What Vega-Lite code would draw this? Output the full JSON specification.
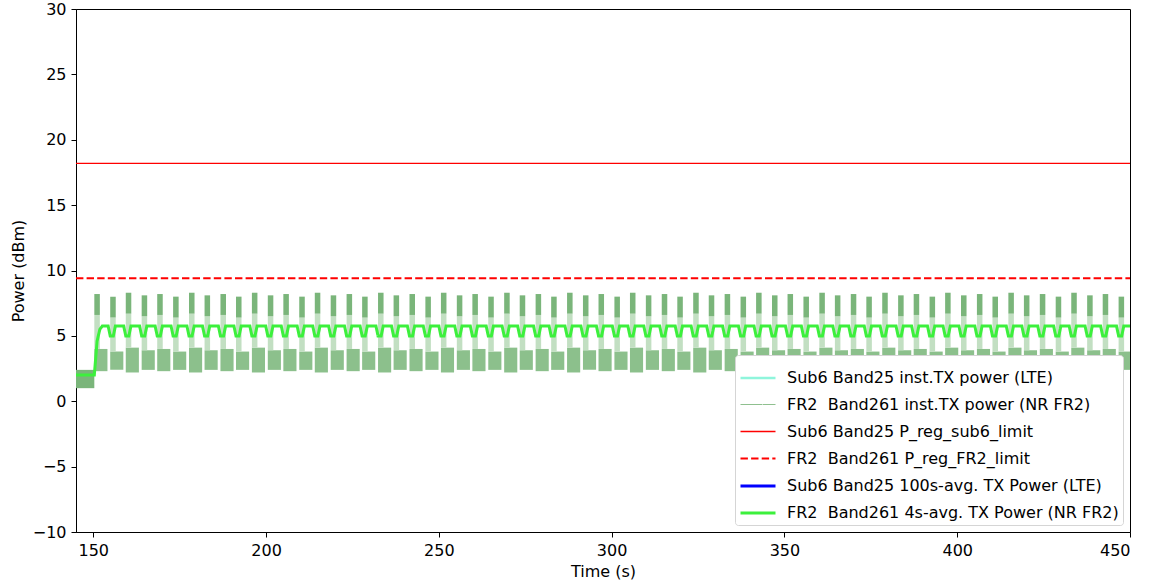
{
"$schema": "https://vega.github.io/schema/vega-lite/v6.json",
"width": 1054, "height": 523,
"autosize": {"type": "none"},
"padding": {"left": 76, "top": 9, "right": 19, "bottom": 52},
"background": "white",
"config": {
 "font": "DejaVu Sans",
 "view": {"stroke": "black", "strokeWidth": 1},
 "axis": {"grid": false, "domainColor": "black", "tickColor": "black", "labelColor": "black", "titleColor": "black", "labelFontSize": 16, "titleFontSize": 16, "titleFontWeight": "normal", "tickSize": 5, "labelPadding": 5, "domainWidth": 1, "tickWidth": 1},
 "legend": {"orient": "bottom-right", "offset": 7, "fillColor": "white", "strokeColor": "#d5d5d5", "cornerRadius": 3, "padding": 4, "labelFontSize": 16, "labelColor": "black", "labelLimit": 0, "labelOffset": 10, "symbolType": "stroke", "symbolSize": 1225, "rowPadding": -5.8, "title": null}
},
"datasets": {
 "pre": [{"a": 145.0, "c": 150.3, "lo": 1.0, "lh": 2.4}],
 "cycles": [
  {"a":150.3,"b":151.9,"c":154.1,"lo":2.3,"lh":4.0,"m":6.6,"hi":8.2},
  {"a":154.9,"b":156.5,"c":158.7,"lo":2.4,"lh":3.8,"m":6.4,"hi":8.0},
  {"a":159.4,"b":161.0,"c":163.2,"lo":2.2,"lh":4.1,"m":6.7,"hi":8.3},
  {"a":164.0,"b":165.6,"c":167.8,"lo":2.4,"lh":3.9,"m":6.5,"hi":8.1},
  {"a":168.5,"b":170.1,"c":172.3,"lo":2.3,"lh":4.0,"m":6.6,"hi":8.2},
  {"a":173.1,"b":174.7,"c":176.9,"lo":2.4,"lh":3.8,"m":6.4,"hi":8.0},
  {"a":177.7,"b":179.3,"c":181.5,"lo":2.2,"lh":4.1,"m":6.7,"hi":8.3},
  {"a":182.2,"b":183.8,"c":186.0,"lo":2.4,"lh":3.9,"m":6.5,"hi":8.1},
  {"a":186.8,"b":188.4,"c":190.6,"lo":2.3,"lh":4.0,"m":6.6,"hi":8.2},
  {"a":191.3,"b":192.9,"c":195.1,"lo":2.4,"lh":3.8,"m":6.4,"hi":8.0},
  {"a":195.9,"b":197.5,"c":199.7,"lo":2.2,"lh":4.1,"m":6.7,"hi":8.3},
  {"a":200.5,"b":202.1,"c":204.3,"lo":2.4,"lh":3.9,"m":6.5,"hi":8.1},
  {"a":205.0,"b":206.6,"c":208.8,"lo":2.3,"lh":4.0,"m":6.6,"hi":8.2},
  {"a":209.6,"b":211.2,"c":213.4,"lo":2.4,"lh":3.8,"m":6.4,"hi":8.0},
  {"a":214.1,"b":215.7,"c":217.9,"lo":2.2,"lh":4.1,"m":6.7,"hi":8.3},
  {"a":218.7,"b":220.3,"c":222.5,"lo":2.4,"lh":3.9,"m":6.5,"hi":8.1},
  {"a":223.3,"b":224.9,"c":227.1,"lo":2.3,"lh":4.0,"m":6.6,"hi":8.2},
  {"a":227.8,"b":229.4,"c":231.6,"lo":2.4,"lh":3.8,"m":6.4,"hi":8.0},
  {"a":232.4,"b":234.0,"c":236.2,"lo":2.2,"lh":4.1,"m":6.7,"hi":8.3},
  {"a":236.9,"b":238.5,"c":240.7,"lo":2.4,"lh":3.9,"m":6.5,"hi":8.1},
  {"a":241.5,"b":243.1,"c":245.3,"lo":2.3,"lh":4.0,"m":6.6,"hi":8.2},
  {"a":246.1,"b":247.7,"c":249.9,"lo":2.4,"lh":3.8,"m":6.4,"hi":8.0},
  {"a":250.6,"b":252.2,"c":254.4,"lo":2.2,"lh":4.1,"m":6.7,"hi":8.3},
  {"a":255.2,"b":256.8,"c":259.0,"lo":2.4,"lh":3.9,"m":6.5,"hi":8.1},
  {"a":259.7,"b":261.3,"c":263.5,"lo":2.3,"lh":4.0,"m":6.6,"hi":8.2},
  {"a":264.3,"b":265.9,"c":268.1,"lo":2.4,"lh":3.8,"m":6.4,"hi":8.0},
  {"a":268.9,"b":270.5,"c":272.7,"lo":2.2,"lh":4.1,"m":6.7,"hi":8.3},
  {"a":273.4,"b":275.0,"c":277.2,"lo":2.4,"lh":3.9,"m":6.5,"hi":8.1},
  {"a":278.0,"b":279.6,"c":281.8,"lo":2.3,"lh":4.0,"m":6.6,"hi":8.2},
  {"a":282.5,"b":284.1,"c":286.3,"lo":2.4,"lh":3.8,"m":6.4,"hi":8.0},
  {"a":287.1,"b":288.7,"c":290.9,"lo":2.2,"lh":4.1,"m":6.7,"hi":8.3},
  {"a":291.7,"b":293.3,"c":295.5,"lo":2.4,"lh":3.9,"m":6.5,"hi":8.1},
  {"a":296.2,"b":297.8,"c":300.0,"lo":2.3,"lh":4.0,"m":6.6,"hi":8.2},
  {"a":300.8,"b":302.4,"c":304.6,"lo":2.4,"lh":3.8,"m":6.4,"hi":8.0},
  {"a":305.3,"b":306.9,"c":309.1,"lo":2.2,"lh":4.1,"m":6.7,"hi":8.3},
  {"a":309.9,"b":311.5,"c":313.7,"lo":2.4,"lh":3.9,"m":6.5,"hi":8.1},
  {"a":314.5,"b":316.1,"c":318.3,"lo":2.3,"lh":4.0,"m":6.6,"hi":8.2},
  {"a":319.0,"b":320.6,"c":322.8,"lo":2.4,"lh":3.8,"m":6.4,"hi":8.0},
  {"a":323.6,"b":325.2,"c":327.4,"lo":2.2,"lh":4.1,"m":6.7,"hi":8.3},
  {"a":328.1,"b":329.7,"c":331.9,"lo":2.4,"lh":3.9,"m":6.5,"hi":8.1},
  {"a":332.7,"b":334.3,"c":336.5,"lo":2.3,"lh":4.0,"m":6.6,"hi":8.2},
  {"a":337.3,"b":338.9,"c":341.1,"lo":2.4,"lh":3.8,"m":6.4,"hi":8.0},
  {"a":341.8,"b":343.4,"c":345.6,"lo":2.2,"lh":4.1,"m":6.7,"hi":8.3},
  {"a":346.4,"b":348.0,"c":350.2,"lo":2.4,"lh":3.9,"m":6.5,"hi":8.1},
  {"a":350.9,"b":352.5,"c":354.7,"lo":2.3,"lh":4.0,"m":6.6,"hi":8.2},
  {"a":355.5,"b":357.1,"c":359.3,"lo":2.4,"lh":3.8,"m":6.4,"hi":8.0},
  {"a":360.1,"b":361.7,"c":363.9,"lo":2.2,"lh":4.1,"m":6.7,"hi":8.3},
  {"a":364.6,"b":366.2,"c":368.4,"lo":2.4,"lh":3.9,"m":6.5,"hi":8.1},
  {"a":369.2,"b":370.8,"c":373.0,"lo":2.3,"lh":4.0,"m":6.6,"hi":8.2},
  {"a":373.7,"b":375.3,"c":377.5,"lo":2.4,"lh":3.8,"m":6.4,"hi":8.0},
  {"a":378.3,"b":379.9,"c":382.1,"lo":2.2,"lh":4.1,"m":6.7,"hi":8.3},
  {"a":382.9,"b":384.5,"c":386.7,"lo":2.4,"lh":3.9,"m":6.5,"hi":8.1},
  {"a":387.4,"b":389.0,"c":391.2,"lo":2.3,"lh":4.0,"m":6.6,"hi":8.2},
  {"a":392.0,"b":393.6,"c":395.8,"lo":2.4,"lh":3.8,"m":6.4,"hi":8.0},
  {"a":396.5,"b":398.1,"c":400.3,"lo":2.2,"lh":4.1,"m":6.7,"hi":8.3},
  {"a":401.1,"b":402.7,"c":404.9,"lo":2.4,"lh":3.9,"m":6.5,"hi":8.1},
  {"a":405.7,"b":407.3,"c":409.5,"lo":2.3,"lh":4.0,"m":6.6,"hi":8.2},
  {"a":410.2,"b":411.8,"c":414.0,"lo":2.4,"lh":3.8,"m":6.4,"hi":8.0},
  {"a":414.8,"b":416.4,"c":418.6,"lo":2.2,"lh":4.1,"m":6.7,"hi":8.3},
  {"a":419.3,"b":420.9,"c":423.1,"lo":2.4,"lh":3.9,"m":6.5,"hi":8.1},
  {"a":423.9,"b":425.5,"c":427.7,"lo":2.3,"lh":4.0,"m":6.6,"hi":8.2},
  {"a":428.5,"b":430.1,"c":432.3,"lo":2.4,"lh":3.8,"m":6.4,"hi":8.0},
  {"a":433.0,"b":434.6,"c":436.8,"lo":2.2,"lh":4.1,"m":6.7,"hi":8.3},
  {"a":437.6,"b":439.2,"c":441.4,"lo":2.4,"lh":3.9,"m":6.5,"hi":8.1},
  {"a":442.1,"b":443.7,"c":445.9,"lo":2.3,"lh":4.0,"m":6.6,"hi":8.2},
  {"a":446.7,"b":448.3,"c":450.0,"lo":2.4,"lh":3.8,"m":6.4,"hi":8.0}
 ],
 "sub6lim": [{"t":145,"v":18.2},{"t":450,"v":18.2}],
 "fr2lim": [{"t":145,"v":9.4},{"t":450,"v":9.4}],
 "avg": [
  {"t":145.0,"v":2.0},{"t":150.3,"v":2.0},{"t":151.1,"v":4.6},{"t":151.9,"v":5.5},{"t":152.6,"v":5.75},
  {"t":154.3,"v":5.75},{"t":154.9,"v":5.0},{"t":155.8,"v":5.0},{"t":156.4,"v":5.75},
  {"t":158.8,"v":5.75},{"t":159.4,"v":5.0},{"t":160.3,"v":5.0},{"t":160.9,"v":5.75},
  {"t":163.4,"v":5.75},{"t":164.0,"v":5.0},{"t":164.9,"v":5.0},{"t":165.5,"v":5.75},
  {"t":167.9,"v":5.75},{"t":168.5,"v":5.0},{"t":169.4,"v":5.0},{"t":170.0,"v":5.75},
  {"t":172.5,"v":5.75},{"t":173.1,"v":5.0},{"t":174.0,"v":5.0},{"t":174.6,"v":5.75},
  {"t":177.1,"v":5.75},{"t":177.7,"v":5.0},{"t":178.6,"v":5.0},{"t":179.2,"v":5.75},
  {"t":181.6,"v":5.75},{"t":182.2,"v":5.0},{"t":183.1,"v":5.0},{"t":183.7,"v":5.75},
  {"t":186.2,"v":5.75},{"t":186.8,"v":5.0},{"t":187.7,"v":5.0},{"t":188.3,"v":5.75},
  {"t":190.7,"v":5.75},{"t":191.3,"v":5.0},{"t":192.2,"v":5.0},{"t":192.8,"v":5.75},
  {"t":195.3,"v":5.75},{"t":195.9,"v":5.0},{"t":196.8,"v":5.0},{"t":197.4,"v":5.75},
  {"t":199.9,"v":5.75},{"t":200.5,"v":5.0},{"t":201.4,"v":5.0},{"t":202.0,"v":5.75},
  {"t":204.4,"v":5.75},{"t":205.0,"v":5.0},{"t":205.9,"v":5.0},{"t":206.5,"v":5.75},
  {"t":209.0,"v":5.75},{"t":209.6,"v":5.0},{"t":210.5,"v":5.0},{"t":211.1,"v":5.75},
  {"t":213.5,"v":5.75},{"t":214.1,"v":5.0},{"t":215.0,"v":5.0},{"t":215.6,"v":5.75},
  {"t":218.1,"v":5.75},{"t":218.7,"v":5.0},{"t":219.6,"v":5.0},{"t":220.2,"v":5.75},
  {"t":222.7,"v":5.75},{"t":223.3,"v":5.0},{"t":224.2,"v":5.0},{"t":224.8,"v":5.75},
  {"t":227.2,"v":5.75},{"t":227.8,"v":5.0},{"t":228.7,"v":5.0},{"t":229.3,"v":5.75},
  {"t":231.8,"v":5.75},{"t":232.4,"v":5.0},{"t":233.3,"v":5.0},{"t":233.9,"v":5.75},
  {"t":236.3,"v":5.75},{"t":236.9,"v":5.0},{"t":237.8,"v":5.0},{"t":238.4,"v":5.75},
  {"t":240.9,"v":5.75},{"t":241.5,"v":5.0},{"t":242.4,"v":5.0},{"t":243.0,"v":5.75},
  {"t":245.5,"v":5.75},{"t":246.1,"v":5.0},{"t":247.0,"v":5.0},{"t":247.6,"v":5.75},
  {"t":250.0,"v":5.75},{"t":250.6,"v":5.0},{"t":251.5,"v":5.0},{"t":252.1,"v":5.75},
  {"t":254.6,"v":5.75},{"t":255.2,"v":5.0},{"t":256.1,"v":5.0},{"t":256.7,"v":5.75},
  {"t":259.1,"v":5.75},{"t":259.7,"v":5.0},{"t":260.6,"v":5.0},{"t":261.2,"v":5.75},
  {"t":263.7,"v":5.75},{"t":264.3,"v":5.0},{"t":265.2,"v":5.0},{"t":265.8,"v":5.75},
  {"t":268.3,"v":5.75},{"t":268.9,"v":5.0},{"t":269.8,"v":5.0},{"t":270.4,"v":5.75},
  {"t":272.8,"v":5.75},{"t":273.4,"v":5.0},{"t":274.3,"v":5.0},{"t":274.9,"v":5.75},
  {"t":277.4,"v":5.75},{"t":278.0,"v":5.0},{"t":278.9,"v":5.0},{"t":279.5,"v":5.75},
  {"t":281.9,"v":5.75},{"t":282.5,"v":5.0},{"t":283.4,"v":5.0},{"t":284.0,"v":5.75},
  {"t":286.5,"v":5.75},{"t":287.1,"v":5.0},{"t":288.0,"v":5.0},{"t":288.6,"v":5.75},
  {"t":291.1,"v":5.75},{"t":291.7,"v":5.0},{"t":292.6,"v":5.0},{"t":293.2,"v":5.75},
  {"t":295.6,"v":5.75},{"t":296.2,"v":5.0},{"t":297.1,"v":5.0},{"t":297.7,"v":5.75},
  {"t":300.2,"v":5.75},{"t":300.8,"v":5.0},{"t":301.7,"v":5.0},{"t":302.3,"v":5.75},
  {"t":304.7,"v":5.75},{"t":305.3,"v":5.0},{"t":306.2,"v":5.0},{"t":306.8,"v":5.75},
  {"t":309.3,"v":5.75},{"t":309.9,"v":5.0},{"t":310.8,"v":5.0},{"t":311.4,"v":5.75},
  {"t":313.9,"v":5.75},{"t":314.5,"v":5.0},{"t":315.4,"v":5.0},{"t":316.0,"v":5.75},
  {"t":318.4,"v":5.75},{"t":319.0,"v":5.0},{"t":319.9,"v":5.0},{"t":320.5,"v":5.75},
  {"t":323.0,"v":5.75},{"t":323.6,"v":5.0},{"t":324.5,"v":5.0},{"t":325.1,"v":5.75},
  {"t":327.5,"v":5.75},{"t":328.1,"v":5.0},{"t":329.0,"v":5.0},{"t":329.6,"v":5.75},
  {"t":332.1,"v":5.75},{"t":332.7,"v":5.0},{"t":333.6,"v":5.0},{"t":334.2,"v":5.75},
  {"t":336.7,"v":5.75},{"t":337.3,"v":5.0},{"t":338.2,"v":5.0},{"t":338.8,"v":5.75},
  {"t":341.2,"v":5.75},{"t":341.8,"v":5.0},{"t":342.7,"v":5.0},{"t":343.3,"v":5.75},
  {"t":345.8,"v":5.75},{"t":346.4,"v":5.0},{"t":347.3,"v":5.0},{"t":347.9,"v":5.75},
  {"t":350.3,"v":5.75},{"t":350.9,"v":5.0},{"t":351.8,"v":5.0},{"t":352.4,"v":5.75},
  {"t":354.9,"v":5.75},{"t":355.5,"v":5.0},{"t":356.4,"v":5.0},{"t":357.0,"v":5.75},
  {"t":359.5,"v":5.75},{"t":360.1,"v":5.0},{"t":361.0,"v":5.0},{"t":361.6,"v":5.75},
  {"t":364.0,"v":5.75},{"t":364.6,"v":5.0},{"t":365.5,"v":5.0},{"t":366.1,"v":5.75},
  {"t":368.6,"v":5.75},{"t":369.2,"v":5.0},{"t":370.1,"v":5.0},{"t":370.7,"v":5.75},
  {"t":373.1,"v":5.75},{"t":373.7,"v":5.0},{"t":374.6,"v":5.0},{"t":375.2,"v":5.75},
  {"t":377.7,"v":5.75},{"t":378.3,"v":5.0},{"t":379.2,"v":5.0},{"t":379.8,"v":5.75},
  {"t":382.3,"v":5.75},{"t":382.9,"v":5.0},{"t":383.8,"v":5.0},{"t":384.4,"v":5.75},
  {"t":386.8,"v":5.75},{"t":387.4,"v":5.0},{"t":388.3,"v":5.0},{"t":388.9,"v":5.75},
  {"t":391.4,"v":5.75},{"t":392.0,"v":5.0},{"t":392.9,"v":5.0},{"t":393.5,"v":5.75},
  {"t":395.9,"v":5.75},{"t":396.5,"v":5.0},{"t":397.4,"v":5.0},{"t":398.0,"v":5.75},
  {"t":400.5,"v":5.75},{"t":401.1,"v":5.0},{"t":402.0,"v":5.0},{"t":402.6,"v":5.75},
  {"t":405.1,"v":5.75},{"t":405.7,"v":5.0},{"t":406.6,"v":5.0},{"t":407.2,"v":5.75},
  {"t":409.6,"v":5.75},{"t":410.2,"v":5.0},{"t":411.1,"v":5.0},{"t":411.7,"v":5.75},
  {"t":414.2,"v":5.75},{"t":414.8,"v":5.0},{"t":415.7,"v":5.0},{"t":416.3,"v":5.75},
  {"t":418.7,"v":5.75},{"t":419.3,"v":5.0},{"t":420.2,"v":5.0},{"t":420.8,"v":5.75},
  {"t":423.3,"v":5.75},{"t":423.9,"v":5.0},{"t":424.8,"v":5.0},{"t":425.4,"v":5.75},
  {"t":427.9,"v":5.75},{"t":428.5,"v":5.0},{"t":429.4,"v":5.0},{"t":430.0,"v":5.75},
  {"t":432.4,"v":5.75},{"t":433.0,"v":5.0},{"t":433.9,"v":5.0},{"t":434.5,"v":5.75},
  {"t":437.0,"v":5.75},{"t":437.6,"v":5.0},{"t":438.5,"v":5.0},{"t":439.1,"v":5.75},
  {"t":441.5,"v":5.75},{"t":442.1,"v":5.0},{"t":443.0,"v":5.0},{"t":443.6,"v":5.75},
  {"t":446.1,"v":5.75},{"t":446.7,"v":5.0},{"t":447.6,"v":5.0},{"t":448.2,"v":5.75},
  {"t":450.0,"v":5.75}
 ]
},
"layer": [
 {"data": {"name": "pre"}, "mark": {"type": "rect", "color": "#7ab57a"},
  "encoding": {
   "x": {"field": "a", "type": "quantitative", "scale": {"domain": [145, 450], "nice": false, "zero": false}, "axis": {"title": "Time (s)", "values": [150, 200, 250, 300, 350, 400, 450], "format": "d", "titlePadding": 5}},
   "x2": {"field": "c"},
   "y": {"field": "lo", "type": "quantitative", "scale": {"domain": [-10, 30], "nice": false, "zero": false}, "axis": {"title": "Power (dBm)", "values": [-10, -5, 0, 5, 10, 15, 20, 25, 30], "format": "d", "titlePadding": 6}},
   "y2": {"field": "lh"}
  }},
 {"data": {"name": "cycles"}, "mark": {"type": "rect", "color": "#8cc08c"},
  "encoding": {
   "x": {"field": "a", "type": "quantitative", "scale": {"domain": [145, 450], "nice": false, "zero": false}},
   "x2": {"field": "c"},
   "y": {"field": "lo", "type": "quantitative", "scale": {"domain": [-10, 30], "nice": false, "zero": false}},
   "y2": {"field": "lh"}
  }},
 {"data": {"name": "cycles"}, "mark": {"type": "rect", "color": "#c2dfc2"},
  "encoding": {
   "x": {"field": "a", "type": "quantitative", "scale": {"domain": [145, 450], "nice": false, "zero": false}},
   "x2": {"field": "b"},
   "y": {"field": "lh", "type": "quantitative", "scale": {"domain": [-10, 30], "nice": false, "zero": false}},
   "y2": {"field": "m"}
  }},
 {"data": {"name": "cycles"}, "mark": {"type": "rect", "color": "#7ab57a"},
  "encoding": {
   "x": {"field": "a", "type": "quantitative", "scale": {"domain": [145, 450], "nice": false, "zero": false}},
   "x2": {"field": "b"},
   "y": {"field": "m", "type": "quantitative", "scale": {"domain": [-10, 30], "nice": false, "zero": false}},
   "y2": {"field": "hi"}
  }},
 {"data": {"name": "sub6lim"}, "mark": {"type": "line"},
  "encoding": {
   "x": {"field": "t", "type": "quantitative", "scale": {"domain": [145, 450], "nice": false, "zero": false}},
   "y": {"field": "v", "type": "quantitative", "scale": {"domain": [-10, 30], "nice": false, "zero": false}},
   "color": {"datum": "Sub6 Band25 P_reg_sub6_limit", "type": "nominal", "scale": {"domain": ["Sub6 Band25 inst.TX power (LTE)", "FR2\u00a0 Band261 inst.TX power (NR FR2)", "Sub6 Band25 P_reg_sub6_limit", "FR2\u00a0 Band261 P_reg_FR2_limit", "Sub6 Band25 100s-avg. TX Power (LTE)", "FR2\u00a0 Band261 4s-avg. TX Power (NR FR2)"], "range": ["#8ff5dc", "#8fc08f", "#ff0000", "#ff0000", "#0000ff", "#3cf03c"]}, "legend": {"title": null}},
   "strokeDash": {"datum": "Sub6 Band25 P_reg_sub6_limit", "type": "nominal", "scale": {"domain": ["Sub6 Band25 inst.TX power (LTE)", "FR2\u00a0 Band261 inst.TX power (NR FR2)", "Sub6 Band25 P_reg_sub6_limit", "FR2\u00a0 Band261 P_reg_FR2_limit", "Sub6 Band25 100s-avg. TX Power (LTE)", "FR2\u00a0 Band261 4s-avg. TX Power (NR FR2)"], "range": [[1, 0], [1, 0], [1, 0], [7.4, 3.2], [1, 0], [1, 0]]}, "legend": {"title": null}},
   "strokeWidth": {"datum": "Sub6 Band25 P_reg_sub6_limit", "type": "ordinal", "scale": {"type": "ordinal", "domain": ["Sub6 Band25 inst.TX power (LTE)", "FR2\u00a0 Band261 inst.TX power (NR FR2)", "Sub6 Band25 P_reg_sub6_limit", "FR2\u00a0 Band261 P_reg_FR2_limit", "Sub6 Band25 100s-avg. TX Power (LTE)", "FR2\u00a0 Band261 4s-avg. TX Power (NR FR2)"], "range": [2.5, 1.2, 1.3, 2, 3, 3]}, "legend": {"title": null}}
  }},
 {"data": {"name": "fr2lim"}, "mark": {"type": "line"},
  "encoding": {
   "x": {"field": "t", "type": "quantitative", "scale": {"domain": [145, 450], "nice": false, "zero": false}},
   "y": {"field": "v", "type": "quantitative", "scale": {"domain": [-10, 30], "nice": false, "zero": false}},
   "color": {"datum": "FR2\u00a0 Band261 P_reg_FR2_limit", "type": "nominal"},
   "strokeDash": {"datum": "FR2\u00a0 Band261 P_reg_FR2_limit", "type": "nominal"},
   "strokeWidth": {"datum": "FR2\u00a0 Band261 P_reg_FR2_limit", "type": "ordinal", "scale": {"type": "ordinal"}}
  }},
 {"data": {"name": "avg"}, "mark": {"type": "line"},
  "encoding": {
   "x": {"field": "t", "type": "quantitative", "scale": {"domain": [145, 450], "nice": false, "zero": false}},
   "y": {"field": "v", "type": "quantitative", "scale": {"domain": [-10, 30], "nice": false, "zero": false}},
   "color": {"datum": "FR2\u00a0 Band261 4s-avg. TX Power (NR FR2)", "type": "nominal"},
   "strokeDash": {"datum": "FR2\u00a0 Band261 4s-avg. TX Power (NR FR2)", "type": "nominal"},
   "strokeWidth": {"datum": "FR2\u00a0 Band261 4s-avg. TX Power (NR FR2)", "type": "ordinal", "scale": {"type": "ordinal"}}
  }}
]
}
